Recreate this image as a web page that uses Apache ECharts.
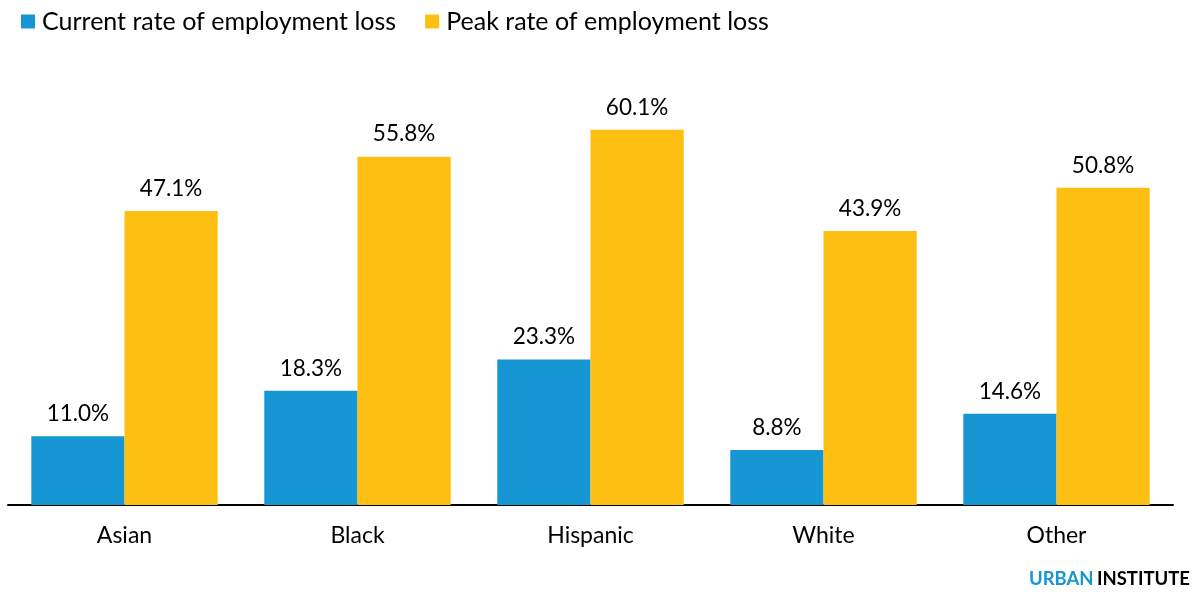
<!DOCTYPE html>
<html>
<head>
<meta charset="utf-8">
<script src="https://cdn.jsdelivr.net/npm/echarts@6/dist/echarts.min.js"></script>
<style>
  html, body { margin: 0; padding: 0; background: #fff; }
  #chart { width: 1194px; height: 592px; }
</style>
</head>
<body>
<div id="chart"></div>
<script>
// Employment loss by race/ethnicity (percent)
const categories = ['Asian', 'Black', 'Hispanic', 'White', 'Other'];
const currentLoss = [11.0, 18.3, 23.3, 8.8, 14.6];
const peakLoss = [47.1, 55.8, 60.1, 43.9, 50.8];
const seriesNames = ['Current rate of employment loss', 'Peak rate of employment loss'];

const BLUE = '#1696d2';
const YELLOW = '#fdbf11';
const FONT = 'Lato, "Open Sans", sans-serif';

const chart = echarts.init(document.getElementById('chart'), null, { renderer: 'canvas' });

const labelStyle = {
  show: true,
  position: 'top',
  distance: 11,
  fontFamily: FONT,
  fontSize: 22.5,
  color: '#000',
  formatter: p => p.value.toFixed(1) + '%'
};

chart.setOption({
  animation: false,
  textStyle: { fontFamily: FONT },
  legend: {
    left: 16,
    top: 4,
    itemWidth: 14,
    itemHeight: 14,
    itemGap: 29,
    icon: 'rect',
    textStyle: { fontFamily: FONT, fontSize: 25, color: '#000', padding: [0, 0, 0, 2] },
    data: seriesNames
  },
  grid: { left: 8, right: 21, top: 68, bottom: 87, containLabel: false },
  xAxis: {
    type: 'category',
    data: categories,
    axisLine: { lineStyle: { color: '#000', width: 2 } },
    axisTick: { show: false },
    axisLabel: { fontFamily: FONT, fontSize: 23, color: '#000', margin: 19 }
  },
  yAxis: {
    type: 'value',
    min: 0,
    max: 70,
    show: false,
    splitLine: { show: false }
  },
  series: [
    {
      name: seriesNames[0],
      type: 'bar',
      data: currentLoss,
      itemStyle: { color: BLUE },
      barGap: '0%',
      barCategoryGap: '20%',
      label: labelStyle
    },
    {
      name: seriesNames[1],
      type: 'bar',
      data: peakLoss,
      itemStyle: { color: YELLOW },
      barGap: '0%',
      barCategoryGap: '20%',
      label: labelStyle
    }
  ],
  graphic: [
    {
      type: 'text',
      right: 4,
      bottom: 3,
      style: {
        rich: {
          u: { fontFamily: FONT, fontSize: 18.5, fontWeight: 'bold', fill: BLUE },
          i: { fontFamily: FONT, fontSize: 18.5, fontWeight: 'bold', fill: '#000' }
        },
        text: '{u|URBAN} {i|INSTITUTE}'
      }
    }
  ]
});
</script>
</body>
</html>
